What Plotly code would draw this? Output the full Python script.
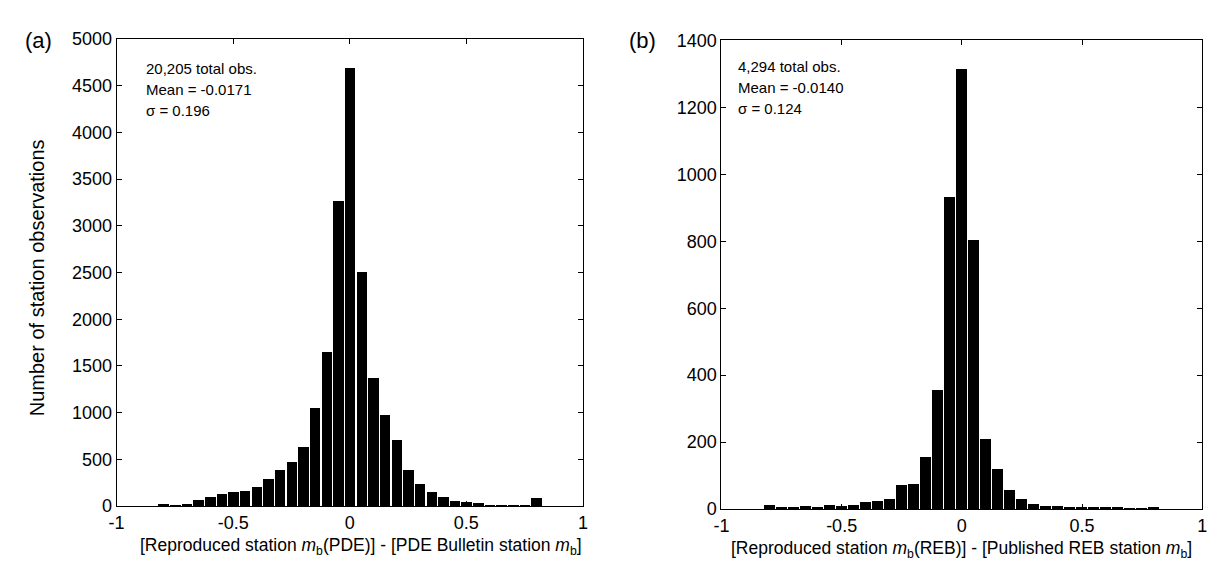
import plotly.graph_objects as go

# bin centres (magnitude difference)
bins = [round(-0.8 + 0.05 * i, 2) for i in range(33)]

# (a) PDE counts
pde_counts = [28, 10, 20, 65, 100, 134, 155, 162, 207, 296, 386, 472, 637, 1047,
              1653, 3271, 4687, 2510, 1370, 971, 709, 386, 241, 155, 93, 59, 45,
              34, 17, 14, 10, 5, 83]
# (b) REB counts
reb_counts = [10, 2, 5, 9, 4, 10, 8, 10, 19, 22, 27, 70, 74, 154, 353, 930, 1314,
              803, 208, 117, 56, 29, 13, 8, 9, 3, 5, 5, 3, 3, 1, 1, 3]

x_ticks = [-1, -0.5, 0, 0.5, 1]
x_ticklabels = ["-1", "-0.5", "0", "0.5", "1"]

pde_stats = ["20,205 total obs.", "Mean = -0.0171", "σ = 0.196"]
reb_stats = ["4,294 total obs.", "Mean = -0.0140", "σ = 0.124"]

W, H = 1225, 565
font = "Liberation Sans, Arial, Helvetica, sans-serif"

fig = go.Figure()
fig.add_trace(go.Bar(x=bins, y=pde_counts, width=0.045, marker_color="black",
                     marker_line_width=0, xaxis="x", yaxis="y", showlegend=False))
fig.add_trace(go.Bar(x=bins, y=reb_counts, width=0.046, marker_color="black",
                     marker_line_width=0, xaxis="x2", yaxis="y2", showlegend=False))

axis_common = dict(showline=True, linecolor="black", linewidth=1, mirror="allticks",
                   ticks="inside", ticklen=5, tickcolor="black", showgrid=False,
                   zeroline=False, tickfont=dict(family=font, size=18, color="black"))

fig.update_layout(
    width=W, height=H,
    margin=dict(l=0, r=0, t=0, b=0),
    paper_bgcolor="white", plot_bgcolor="white",
    font=dict(family=font, color="black"),
    bargap=0,
    xaxis=dict(domain=[101.7 / W, 573 / W], anchor="y", range=[-1, 1],
               tickvals=x_ticks, ticktext=x_ticklabels, **axis_common),
    yaxis=dict(domain=[1 - 506 / H, 1 - 21.7 / H], anchor="x", range=[0, 5000],
               dtick=500, **axis_common),
    xaxis2=dict(domain=[713 / W, 1199 / W], anchor="y2", range=[-1, 1],
                tickvals=x_ticks, ticktext=x_ticklabels, **axis_common),
    yaxis2=dict(domain=[1 - 509 / H, 1 - 23.3 / H], anchor="x2", range=[0, 1400],
                dtick=200, **axis_common),
)

def px(x, y):
    return dict(xref="paper", yref="paper", x=x / W, y=1 - y / H)

notes = [
    dict(text="(a)", **px(7, 23), xanchor="left", yanchor="middle", font_size=22),
    dict(text="(b)", **px(618, 23), xanchor="left", yanchor="middle", font_size=22),
    dict(text="Number of station observations", **px(22, 269), textangle=-90,
         xanchor="center", yanchor="middle", font_size=20),
    dict(text="[Reproduced station <i>m</i><sub>b</sub>(PDE)] - [PDE Bulletin station <i>m</i><sub>b</sub>]",
         **px(349, 534), xanchor="center", yanchor="top", font_size=17.5),
    dict(text="[Reproduced station <i>m</i><sub>b</sub>(REB)] - [Published REB station <i>m</i><sub>b</sub>]",
         **px(956, 537), xanchor="center", yanchor="top", font_size=17.5),
]
for i, line in enumerate(pde_stats):
    notes.append(dict(text=line, **px(129, 52 + 22 * i), xanchor="left",
                      yanchor="middle", font_size=15))
for i, line in enumerate(reb_stats):
    notes.append(dict(text=line, **px(728, 50 + 22 * i), xanchor="left",
                      yanchor="middle", font_size=15))

for n in notes:
    fig.add_annotation(showarrow=False, font_family=font, font_color="black", **n)

fig.write_html("out.html")
